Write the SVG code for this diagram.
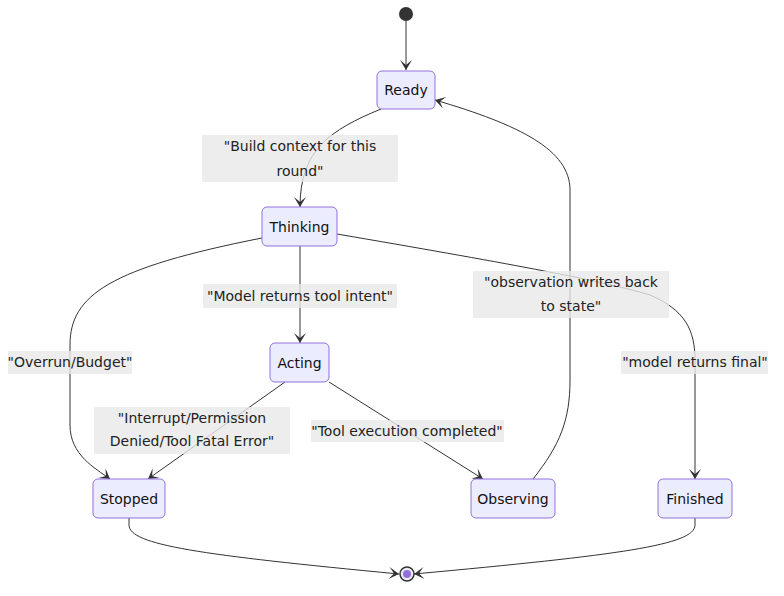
<svg xmlns="http://www.w3.org/2000/svg" width="784" height="596" viewBox="0 0 784 596">
<defs>
<marker id="barb" viewBox="0 0 20 14" refX="19" refY="7" markerWidth="20" markerHeight="14" markerUnits="userSpaceOnUse" orient="auto">
<path d="M19,7 L9,13 L14,7 L9,1 Z" fill="#333"/>
</marker>
</defs>
<style>
.node rect{fill:#ECECFF;stroke:#9370DB;stroke-width:1}
.node text{font-family:"DejaVu Sans",Verdana,sans-serif;font-size:14px;fill:#111;text-anchor:middle;dominant-baseline:central}
.edge{fill:none;stroke:#333;stroke-width:1;marker-end:url(#barb)}
.lbl rect{fill:#e8e8e8;opacity:0.8}
.lbl text{font-family:"DejaVu Sans",Verdana,sans-serif;font-size:14px;fill:#222;text-anchor:middle;dominant-baseline:central}
</style>
<rect width="784" height="596" fill="#fff"/>
<g id="edges">
<path class="edge" d="M406,21 L406,70"/>
<path class="edge" d="M381,109 C330,130 300,150 300,207"/>
<path class="edge" d="M300,246 L300,343"/>
<path class="edge" d="M262,238 C110,268 70,295 70,345 L70,425 C70,455 95,468 110,479"/>
<path class="edge" d="M337,234 C500,262 600,280 650,295 C685,310 695,330 695,360 L695,479"/>
<path class="edge" d="M285,382 L148,479"/>
<path class="edge" d="M329,382 L483,479"/>
<path class="edge" d="M533,479 C560,445 570,420 570,380 L570,190 C570,150 520,125 435,100"/>
<path class="edge" d="M129,518 L129,525 C129,545 200,555 399,574"/>
<path class="edge" d="M695,518 L695,525 C695,545 620,555 414,574"/>
</g>
<g id="labels">
<g class="lbl"><rect x="202" y="135" width="196" height="47"/><text x="300" y="146">"Build context for this</text><text x="300" y="171">round"</text></g>
<g class="lbl"><rect x="203" y="284" width="194" height="24"/><text x="300" y="296">"Model returns tool intent"</text></g>
<g class="lbl"><rect x="8" y="351" width="124" height="23"/><text x="70" y="362">"Overrun/Budget"</text></g>
<g class="lbl"><rect x="94" y="407" width="196" height="47"/><text x="192" y="418">"Interrupt/Permission</text><text x="192" y="441">Denied/Tool Fatal Error"</text></g>
<g class="lbl"><rect x="311" y="420" width="193" height="22"/><text x="407" y="431">"Tool execution completed"</text></g>
<g class="lbl"><rect x="473" y="271" width="196" height="47"/><text x="571" y="282">"observation writes back</text><text x="571" y="306">to state"</text></g>
<g class="lbl"><rect x="621" y="351" width="147" height="23"/><text x="695" y="362">"model returns final"</text></g>
</g>
<g id="start"><circle cx="406" cy="14" r="7" fill="#333"/></g>
<g id="end"><circle cx="407" cy="574" r="7" fill="#ECECFF" stroke="#333" stroke-width="1.5"/><circle cx="407" cy="574" r="4" fill="#9370DB"/></g>
<g id="ready" class="node"><rect x="377" y="71" width="58" height="38" rx="5"/><text x="406" y="90">Ready</text></g>
<g id="thinking" class="node"><rect x="262" y="207" width="75" height="39" rx="5"/><text x="299.5" y="226.5">Thinking</text></g>
<g id="acting" class="node"><rect x="270" y="343" width="59" height="39" rx="5"/><text x="299.5" y="362.5">Acting</text></g>
<g id="stopped" class="node"><rect x="93" y="479" width="72" height="39" rx="5"/><text x="129" y="498.5">Stopped</text></g>
<g id="observing" class="node"><rect x="471" y="479" width="84" height="39" rx="5"/><text x="513" y="498.5">Observing</text></g>
<g id="finished" class="node"><rect x="658" y="479" width="74" height="39" rx="5"/><text x="695" y="498.5">Finished</text></g>
</svg>
